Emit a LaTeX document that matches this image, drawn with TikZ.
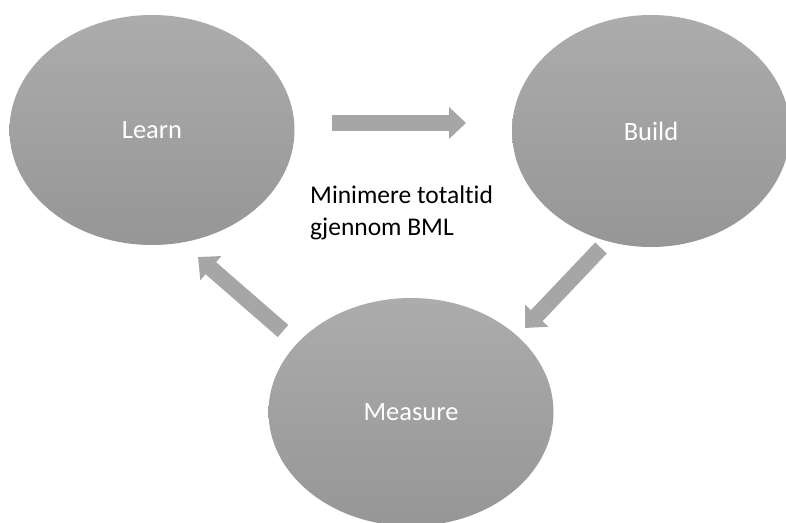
\documentclass[tikz,border=0pt]{standalone}
\usepackage{fontspec}
\setmainfont{Carlito}[Ligatures=NoCommon]
\usetikzlibrary{arrows.meta,shapes.geometric}
\definecolor{topgray}{RGB}{172,172,172}
\definecolor{botgray}{RGB}{150,150,150}
\definecolor{arrowgray}{RGB}{166,166,166}
\begin{document}
\begin{tikzpicture}[x=1pt,y=-1pt,
  phase/.style={ellipse, inner sep=0pt, draw=none, top color=topgray, bottom color=botgray,
    text=white, font=\fontsize{26.5}{30}\selectfont},
  blockarrow/.style={draw=arrowgray, line width=16pt,
    -{Triangle[width=31pt,length=17pt]}},
  note/.style={inner sep=0pt, align=left, font=\fontsize{25.5}{32}\selectfont, text=black}
]
\useasboundingbox (0,0) rectangle (786,522);
\clip (0,0) rectangle (786,522);
\fill[white] (0,0) rectangle (786,522);

\node[phase, minimum width=285pt, minimum height=230pt] (learn) at (152,130) {Learn};
\node[phase, minimum width=278pt, minimum height=232pt] (build) at (651,131) {Build};
\node[phase, minimum width=285pt, minimum height=228pt] (measure) at (411,412) {Measure};

\node[note, anchor=north west] (goal) at (310,186) {Minimere totaltid\\gjennom BML};

\coordinate (a1s) at (332,123);
\coordinate (a1e) at (466,123);
\coordinate (a2s) at (283,331);
\coordinate (a2e) at (198,257);
\coordinate (a3s) at (601,248);
\coordinate (a3e) at (525,328);

\draw[blockarrow] (a1s) -- (a1e);
\draw[blockarrow] (a2s) -- (a2e);
\draw[blockarrow] (a3s) -- (a3e);
\end{tikzpicture}
\end{document}
